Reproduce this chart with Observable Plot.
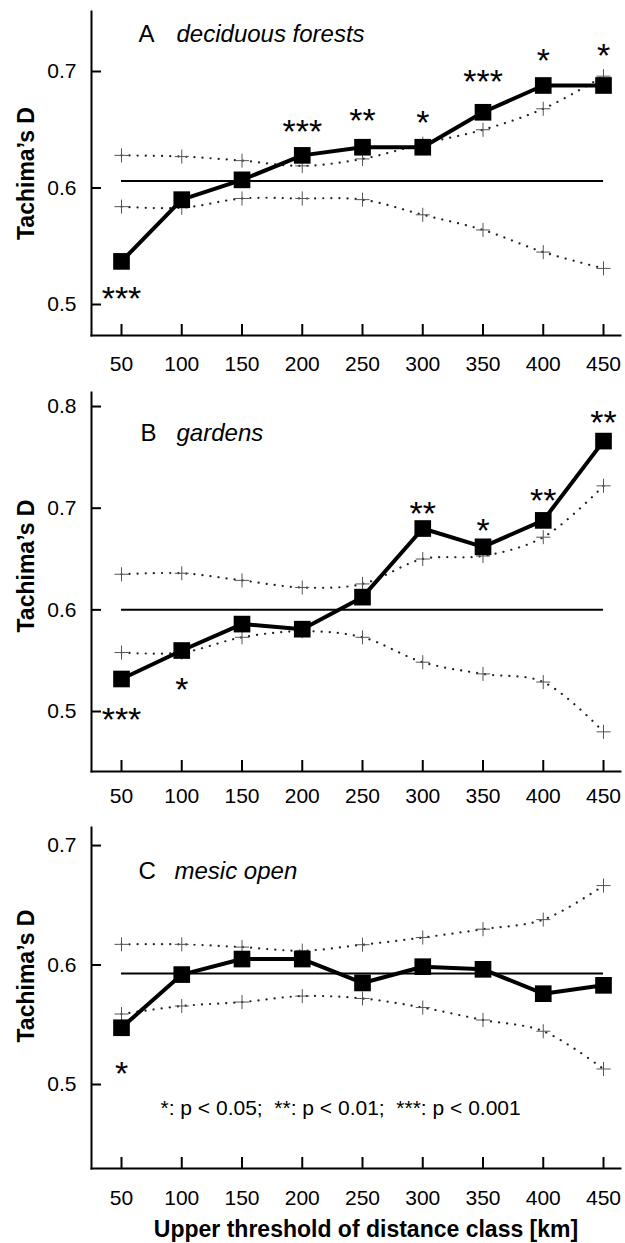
<!DOCTYPE html>
<html><head><meta charset="utf-8">
<script src="https://cdn.jsdelivr.net/npm/d3@7"></script>
<script src="https://cdn.jsdelivr.net/npm/@observablehq/plot@0.6"></script>
<style>
html,body{margin:0;padding:0;background:#fff;}
#chart svg{display:block;}
</style></head><body><div id="chart"></div>
<script>
// Upper threshold of distance class [km]
const distance = [50, 100, 150, 200, 250, 300, 350, 400, 450];
const xTicks = [50, 100, 150, 200, 250, 300, 350, 400, 450];

// Panel A: deciduous forests
const obsA   = [0.537, 0.590, 0.607, 0.628, 0.635, 0.635, 0.665, 0.688, 0.688];
const upperA = [0.628, 0.627, 0.6235, 0.619, 0.625, 0.638, 0.650, 0.668, 0.696];
const lowerA = [0.584, 0.583, 0.591, 0.591, 0.590, 0.577, 0.564, 0.545, 0.531];
const refA = 0.606;
const sigA  = ["***", "", "", "***", "**", "*", "***", "*", "*"];
const sigYA = [0.512, null, null, 0.656, 0.665, 0.6635, 0.699, 0.717, 0.721];
const yTicksA = [0.5, 0.6, 0.7];

// Panel B: gardens
const obsB   = [0.532, 0.560, 0.586, 0.581, 0.6125, 0.680, 0.662, 0.688, 0.766];
const upperB = [0.635, 0.636, 0.629, 0.622, 0.6255, 0.650, 0.653, 0.6715, 0.722];
const lowerB = [0.558, 0.558, 0.573, 0.579, 0.573, 0.5485, 0.537, 0.529, 0.480];
const refB = 0.600;
const sigB  = ["***", "*", "", "", "", "**", "*", "**", "**"];
const sigYB = [0.500, 0.530, null, null, null, 0.703, 0.686, 0.716, 0.793];
const yTicksB = [0.5, 0.6, 0.7, 0.8];

// Panel C: mesic open
const obsC   = [0.5475, 0.592, 0.605, 0.605, 0.585, 0.5986, 0.5964, 0.576, 0.583];
const upperC = [0.6173, 0.6173, 0.615, 0.612, 0.617, 0.623, 0.630, 0.638, 0.6665];
const lowerC = [0.559, 0.5657, 0.569, 0.574, 0.572, 0.5644, 0.554, 0.5446, 0.513];
const refC = 0.593;
const sigC  = ["*", "", "", "", "", "", "", "", ""];
const sigYC = [0.516, null, null, null, null, null, null, null, null];
const yTicksC = [0.5, 0.6, 0.7];

const yLabel = "Tachima\u2019s D";
const xLabel = "Upper threshold of distance class [km]";
const legendText = "*: p < 0.05;\u00a0 **: p < 0.01;\u00a0 ***: p < 0.001";

const FONT = "'Liberation Sans', Arial, Helvetica, sans-serif";
const WIDTH = 625, ML = 91, MR = 5;

function panel(cfg) {
  const rows = distance.map((d, i) => ({
    d, obs: cfg.obs[i], upper: cfg.upper[i], lower: cfg.lower[i], sig: cfg.sig[i], sigY: cfg.sigY[i]
  }));
  const sigRows = rows.filter(r => r.sig && r.sigY != null);
  const frameW = WIDTH - ML - MR;
  const frameH = cfg.height - cfg.marginTop - cfg.marginBottom;
  const dotted = {stroke: "#222", strokeWidth: 2.2, strokeDasharray: "0.1,8", strokeLinecap: "round", curve: "catmull-rom"};
  const plus = {symbol: "plus", r: 4.6, stroke: "#555", strokeWidth: 1};
  const marks = [
    Plot.line(rows, {x: "d", y: "upper", ...dotted}),
    Plot.line(rows, {x: "d", y: "lower", ...dotted}),
    Plot.dot(rows, {x: "d", y: "upper", ...plus}),
    Plot.dot(rows, {x: "d", y: "lower", ...plus}),
    Plot.ruleY([cfg.ref], {x1: distance[0], x2: distance[distance.length - 1], stroke: "black", strokeWidth: 2}),
    Plot.line(rows, {x: "d", y: "obs", stroke: "black", strokeWidth: 4}),
    Plot.dot(rows, {x: "d", y: "obs", symbol: "square", r: 9.4, fill: "black", stroke: "none"}),
    Plot.text(sigRows, {x: "d", y: "sigY", text: "sig", fontSize: 34, dy: 9, fill: "black", lineAnchor: "middle"}),
    Plot.frame({anchor: "left", stroke: "black", strokeWidth: 2}),
    Plot.frame({anchor: "bottom", stroke: "black", strokeWidth: 2}),
    // inward-pointing ticks
    Plot.ruleY(cfg.yTicks, {y: d => d, insetRight: frameW - 10, stroke: "black", strokeWidth: 2}),
    Plot.ruleX(xTicks, {x: d => d, insetTop: frameH - 11, stroke: "black", strokeWidth: 2}),
    Plot.axisY({ticks: cfg.yTicks, tickSize: 0, tickPadding: 15, fontSize: 21, label: null, tickFormat: d3.format(".1f")}),
    Plot.axisX({ticks: xTicks, tickSize: 0, tickPadding: cfg.xPad, fontSize: 21, label: null, tickFormat: d => String(d)}),
    Plot.text([yLabel], {text: d => d, frameAnchor: "left", dx: -65, dy: cfg.yLabelDy, rotate: -90, fontSize: 23, fontWeight: "bold", textAnchor: "middle", lineAnchor: "middle"}),
    Plot.text([cfg.letter], {text: d => d, frameAnchor: "top-left", dx: cfg.letterDx, dy: cfg.titleDy, fontSize: 24, textAnchor: "start", lineAnchor: "middle"}),
    Plot.text([cfg.name], {text: d => d, frameAnchor: "top-left", dx: cfg.nameDx, dy: cfg.titleDy, fontSize: 24, fontStyle: "italic", textAnchor: "start", lineAnchor: "middle"})
  ];
  if (cfg.legend) {
    marks.push(Plot.text([legendText], {text: d => d, frameAnchor: "bottom-left", dx: 69, dy: -60, fontSize: 21, textAnchor: "start", lineAnchor: "middle"}));
  }
  if (cfg.xTitle) {
    marks.push(Plot.text([xLabel], {text: d => d, frameAnchor: "bottom", dx: 10, dy: 61, fontSize: 23, fontWeight: "bold", textAnchor: "middle", lineAnchor: "middle"}));
  }
  return Plot.plot({
    width: WIDTH,
    height: cfg.height,
    marginTop: cfg.marginTop,
    marginBottom: cfg.marginBottom,
    marginLeft: ML,
    marginRight: MR,
    style: {fontFamily: FONT, background: "white", color: "black", overflow: "visible"},
    x: {domain: [25.1, 464.1]},
    y: {domain: cfg.yDomain},
    marks
  });
}

const chart = document.getElementById("chart");
chart.append(panel({
  obs: obsA, upper: upperA, lower: lowerA, ref: refA, sig: sigA, sigY: sigYA, yTicks: yTicksA,
  height: 385, marginTop: 11, marginBottom: 50, yDomain: [0.4734, 0.7515], xPad: 20.5,
  yLabelDy: 0, letter: "A", name: "deciduous forests", letterDx: 47, nameDx: 85, titleDy: 23
}));
chart.append(panel({
  obs: obsB, upper: upperB, lower: lowerB, ref: refB, sig: sigB, sigY: sigYB, yTicks: yTicksB,
  height: 425, marginTop: 7, marginBottom: 39, yDomain: [0.441, 0.8138], xPad: 16.5,
  yLabelDy: -16, letter: "B", name: "gardens", letterDx: 49, nameDx: 85, titleDy: 40.5
}));
chart.append(panel({
  obs: obsC, upper: upperC, lower: lowerC, ref: refC, sig: sigC, sigY: sigYC, yTicks: yTicksC,
  height: 433, marginTop: 17, marginBottom: 75, yDomain: [0.4297, 0.7151], xPad: 21.5,
  yLabelDy: -22, letter: "C", name: "mesic open", letterDx: 47, nameDx: 83, titleDy: 43.5,
  legend: true, xTitle: true
}));
</script>
</body></html>
